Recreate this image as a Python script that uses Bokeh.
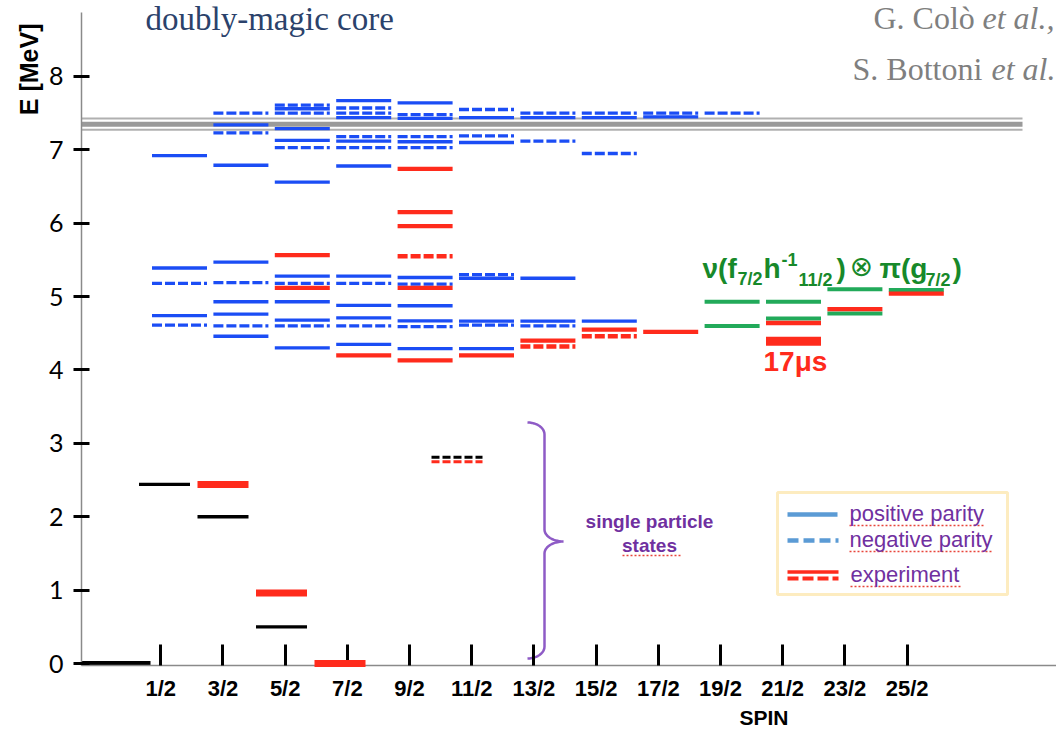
import math
from bokeh.plotting import figure
from bokeh.models import Range1d, LinearAxis, FixedTicker, Label, BoxAnnotation, ColumnDataSource, Title
from bokeh.embed import file_html
from bokeh.resources import INLINE

# ---------------- data ----------------
spins = ["1/2", "3/2", "5/2", "7/2", "9/2", "11/2", "13/2", "15/2", "17/2", "19/2", "21/2", "23/2", "25/2"]

# shell-model levels (MeV), one list per spin, positive parity (solid blue)
theo_pos_E = [
    [6.92, 5.39, 4.74],
    [7.34, 6.79, 5.47, 4.93, 4.76, 4.46],
    [7.56, 7.29, 7.13, 6.56, 5.28, 4.93, 4.68, 4.30],
    [7.67, 7.44, 7.12, 6.78, 5.28, 4.88, 4.71, 4.35],
    [7.64, 7.43, 7.11, 5.26, 4.875, 4.67, 4.29],
    [7.44, 7.10, 5.25, 4.665, 4.29],
    [7.44, 5.25, 4.665],
    [7.44, 4.665],
    [7.45],
    [], [], [], [],
]
# negative parity (dashed blue)
theo_neg_E = [
    [5.18, 4.61],
    [7.50, 7.23, 5.19, 4.60],
    [7.61, 7.50, 7.03, 5.18, 4.60],
    [7.57, 7.50, 7.18, 7.03, 5.18, 4.60],
    [7.48, 7.18, 7.03, 5.17, 4.59],
    [7.55, 7.19, 5.30, 4.61],
    [7.50, 7.12, 4.60],
    [7.50, 6.95],
    [7.50],
    [7.50],
    [], [], [],
]
# experiment (red)
exp_pos_E = [
    [], [], [5.565, 5.12], [4.20], [6.74, 6.15, 5.96, 5.12, 4.13], [4.20],
    [4.40], [4.55], [4.52], [], [4.64], [4.83], [5.04],
]
exp_neg_E = [
    [], [], [], [], [5.55], [], [4.32], [4.46], [], [], [], [], [],
]
# nu(f7/2 h-1 11/2) x pi(g7/2) multiplet (green)
multiplet_E = [
    [], [], [], [], [], [], [], [], [],
    [4.93, 4.60],
    [4.93, 4.70],
    [5.10, 4.77],
    [5.09],
]
isomer_spin = ["21/2"]
isomer_E = [4.39]
isomer_label = "17\u03bcs"

# single-particle states (lower inset)
sp_exp_spin = ["3/2", "5/2", "7/2"]
sp_exp_E = [2.44, 0.96, 0.0]
sp_exp_neg_spin = ["11/2"]
sp_exp_neg_E = [2.75]
sp_calc_spin = ["1/2", "3/2", "5/2"]
sp_calc_E = [2.44, 2.00, 0.50]
sp_calc_neg_spin = ["11/2"]
sp_calc_neg_E = [2.81]
core_E = [0.0]

sn_E = 7.35
sn_err = 0.077
energy_ticks = [0, 1, 2, 3, 4, 5, 6, 7, 8]

# ---------------- layout ----------------
W, H = 1056, 730
FL, FR, FT, FB = 81, 1056, 0, 665
ZERO_PX = 663
PXM = 73.38
UP_FIRST, UP_STEP = 179.0, 61.4      # main level scheme
SP_FIRST, SP_STEP = 164.0, 58.5      # single-particle inset
AX_FIRST, AX_STEP = 160.3, 62.19     # spin axis

def rng(first, step):
    return Range1d(1 + (FL - first) / step, 1 + (FR - first) / step)

def px2x(px):
    return 1 + (px - UP_FIRST) / UP_STEP

def py2y(py):
    return (ZERO_PX - py) / PXM

BLUE = "#1b4df5"
RED = "#ff2b1c"
GREEN = "#22aa5a"
GREEN_TXT = "#17892a"
PURPLE = "#7030a0"

y_start = (ZERO_PX - FB) / PXM
p = figure(width=W, height=H, output_backend="svg", toolbar_location=None,
           x_range=rng(UP_FIRST, UP_STEP),
           y_range=Range1d(y_start, (ZERO_PX - FT) / PXM),
           x_axis_location=None, y_axis_location=None,
           min_border_left=FL, min_border_right=W - FR, min_border_top=FT, min_border_bottom=H - FB)
p.extra_x_ranges = {"sp": rng(SP_FIRST, SP_STEP), "ax": rng(AX_FIRST, AX_STEP)}
p.outline_line_color = None
p.grid.visible = False
p.background_fill_color = "white"
p.border_fill_color = "white"

# axes
yaxis = LinearAxis(ticker=FixedTicker(ticks=energy_ticks), bounds=(y_start, py2y(12)))
yaxis.axis_line_color = "#8a8a8a"
yaxis.axis_line_width = 1.5
yaxis.major_tick_in = 8
yaxis.major_tick_out = 8
yaxis.major_tick_line_width = 3
yaxis.major_tick_line_color = "black"
yaxis.minor_tick_line_color = None
yaxis.major_label_text_font = "Lato"
yaxis.major_label_text_font_size = "25px"
yaxis.major_label_text_color = "black"
yaxis.major_label_standoff = 10
p.add_layout(yaxis, "left")

xaxis = LinearAxis(x_range_name="ax", ticker=FixedTicker(ticks=list(range(1, len(spins) + 1))),
                   major_label_overrides={i + 1: s for i, s in enumerate(spins)})
xaxis.axis_line_color = "#8a8a8a"
xaxis.axis_line_width = 1.5
xaxis.major_tick_in = 21
xaxis.major_tick_out = 0
xaxis.major_tick_line_width = 3
xaxis.major_tick_line_color = "black"
xaxis.minor_tick_line_color = None
xaxis.major_label_text_font = "Liberation Sans"
xaxis.major_label_text_font_style = "bold"
xaxis.major_label_text_font_size = "22px"
xaxis.major_label_text_color = "black"
xaxis.major_label_standoff = 10
p.add_layout(xaxis, "below")

p.add_layout(Title(text="SPIN", align="left", offset=739 - FL, standoff=0,
                   text_font="Liberation Sans", text_font_size="21px", text_font_style="bold",
                   text_color="black"), "below")
p.add_layout(Title(text="E [MeV]", align="right", offset=23, standoff=6,
                   text_font="Liberation Sans", text_font_size="25px", text_font_style="bold",
                   text_color="black"), "left")

def level_source(E_lists, hw):
    x0, x1, y = [], [], []
    for i, lv in enumerate(E_lists):
        for e in lv:
            x0.append(i + 1 - hw)
            x1.append(i + 1 + hw)
            y.append(e)
    return ColumnDataSource(dict(x0=x0, x1=x1, y=y))

def named_source(spin_list, E_list, hw, offset=1):
    idx = [spins.index(s) + offset for s in spin_list]
    return ColumnDataSource(dict(x0=[i - hw for i in idx], x1=[i + hw for i in idx], y=E_list))

HW = 27.5 / UP_STEP
HW_SP = 25.5 / SP_STEP

# neutron separation energy band
sn_end = px2x(1022)
x_start = p.x_range.start
p.segment(x0=[x_start], x1=[sn_end], y0=[sn_E], y1=[sn_E], line_color="#9a9a9a", line_width=5)
p.segment(x0=[x_start, x_start], x1=[sn_end, sn_end], y0=[sn_E + sn_err, sn_E - sn_err],
          y1=[sn_E + sn_err, sn_E - sn_err], line_color="#b0b0b0", line_width=2)

def seg(src, color, width, dash="solid", **kw):
    p.segment(x0="x0", x1="x1", y0="y", y1="y", source=src, line_color=color,
              line_width=width, line_dash=dash, line_cap="butt", **kw)

seg(level_source(theo_pos_E, HW), BLUE, 3.3)
seg(level_source(theo_neg_E, HW), BLUE, 3.3, "10 3")
seg(level_source(multiplet_E, HW), GREEN, 4)
seg(level_source(exp_neg_E, HW), RED, 4.3, "10 3")
seg(level_source(exp_pos_E, HW), RED, 4.3)
seg(named_source(isomer_spin, isomer_E, HW), RED, 9)

# single-particle inset
seg(ColumnDataSource(dict(x0=[0 - 0.761], x1=[0 + 0.761], y=core_E)), "black", 5, x_range_name="sp")
seg(named_source(sp_calc_spin, sp_calc_E, HW_SP), "black", 3.3, x_range_name="sp")
seg(named_source(sp_calc_neg_spin, sp_calc_neg_E, HW_SP), "black", 3, "8 3", x_range_name="sp")
seg(named_source(sp_exp_neg_spin, sp_exp_neg_E, HW_SP), RED, 3, "8 3", x_range_name="sp")
seg(named_source(sp_exp_spin, sp_exp_E, HW_SP), RED, 7, x_range_name="sp", level="overlay")

# curly brace around single-particle states
def brace(xl, xm, xt, yt, yb, r=12, n=12):
    pts = []
    ym = (yt + yb) / 2 + 1
    for k in range(n + 1):
        th = math.pi / 2 * (1 - k / n)
        pts.append((xl + (xm - xl) * math.cos(th), yt + r - r * math.sin(th)))
    for k in range(n + 1):
        th = math.pi / 2 * k / n
        pts.append((xt - (xt - xm) * math.cos(th), ym - r + r * math.sin(th)))
    for k in range(n + 1):
        th = math.pi / 2 * (1 - k / n)
        pts.append((xt - (xt - xm) * math.cos(th), ym + r - r * math.sin(th)))
    for k in range(n + 1):
        th = math.pi / 2 * k / n
        pts.append((xl + (xm - xl) * math.cos(th), yb - r + r * math.sin(th)))
    return [px2x(a) for a, b in pts], [py2y(b) for a, b in pts]

bx, by = brace(527, 544, 563, 422, 658)
p.line(bx, by, line_color="#8e5bc6", line_width=2.5)

# ---------------- texts ----------------
def label(txt, px, py, size, color="black", font="Liberation Sans", style="normal",
          align="left", center=False):
    # py is the baseline unless center=True
    yc = py if center else py - 0.33 * size
    p.add_layout(Label(x=px2x(px), y=py2y(yc), text=txt, text_font=font, text_font_size=f"{size}px",
                       text_font_style=style, text_color=color, text_align=align,
                       text_baseline="middle"))

def squiggle(x0px, x1px, ypx):
    p.segment(x0=[px2x(x0px)], x1=[px2x(x1px)], y0=[py2y(ypx)], y1=[py2y(ypx)],
              line_color="#e8453a", line_width=1.3, line_dash="2 2")

label("doubly-magic core", 145, 29.5, 33, "#2b426b", "Liberation Serif")
label("G. Col\u00f2", 873, 28, 32, "#7f7f7f", "Liberation Serif")
label("et al.,", 982, 28, 32, "#7f7f7f", "Liberation Serif", "italic")
label("S. Bottoni", 852, 79, 32, "#7f7f7f", "Liberation Serif")
label("et al.", 991, 79, 32, "#7f7f7f", "Liberation Serif", "italic")

# multiplet formula
label("\u03bd(f", 702, 277, 28, GREEN_TXT, style="bold")
label("7/2", 737, 284, 18, GREEN_TXT, style="bold")
label("h", 763, 277, 28, GREEN_TXT, style="bold")
label("-1", 781, 265, 18, GREEN_TXT, style="bold")
label("11/2", 798, 285, 18, GREEN_TXT, style="bold")
label(")", 836, 277, 28, GREEN_TXT, style="bold")
label("\u2297", 849, 266, 28, GREEN_TXT, "DejaVu Sans", center=True)
label("\u03c0(g", 879, 277, 28, GREEN_TXT, style="bold")
label("7/2", 925, 285, 18, GREEN_TXT, style="bold")
label(")", 952, 277, 28, GREEN_TXT, style="bold")

label(isomer_label, 763, 370, 28, RED, style="bold")

label("single particle", 649, 521, 19, PURPLE, style="bold", align="center", center=True)
label("states", 649, 545, 19, PURPLE, style="bold", align="center", center=True)
squiggle(622, 682, 555)

# legend box
p.add_layout(BoxAnnotation(left=px2x(777), right=px2x(1007), top=py2y(492), bottom=py2y(594),
                           fill_alpha=0, line_color="#f9c12e", line_width=3))
LB = "#5b9bd5"
p.segment(x0=[px2x(787)], x1=[px2x(837)], y0=[py2y(514)], y1=[py2y(514)], line_color=LB, line_width=4.5)
p.segment(x0=[px2x(787)], x1=[px2x(838)], y0=[py2y(540)], y1=[py2y(540)], line_color=LB, line_width=4.5,
          line_dash="11 5")
p.segment(x0=[px2x(787)], x1=[px2x(838)], y0=[py2y(571.5)], y1=[py2y(571.5)], line_color=RED, line_width=3.5)
p.segment(x0=[px2x(787)], x1=[px2x(838)], y0=[py2y(578)], y1=[py2y(578)], line_color=RED, line_width=4,
          line_dash="11 4")
label("positive parity", 849, 513, 22, PURPLE, center=True)
label("negative parity", 849, 539, 22, PURPLE, center=True)
label("experiment", 850, 574, 22, PURPLE, center=True)
squiggle(849, 985, 525)
squiggle(849, 993, 551)
squiggle(850, 960, 586)

open("out.html", "w").write(file_html(p, INLINE))
